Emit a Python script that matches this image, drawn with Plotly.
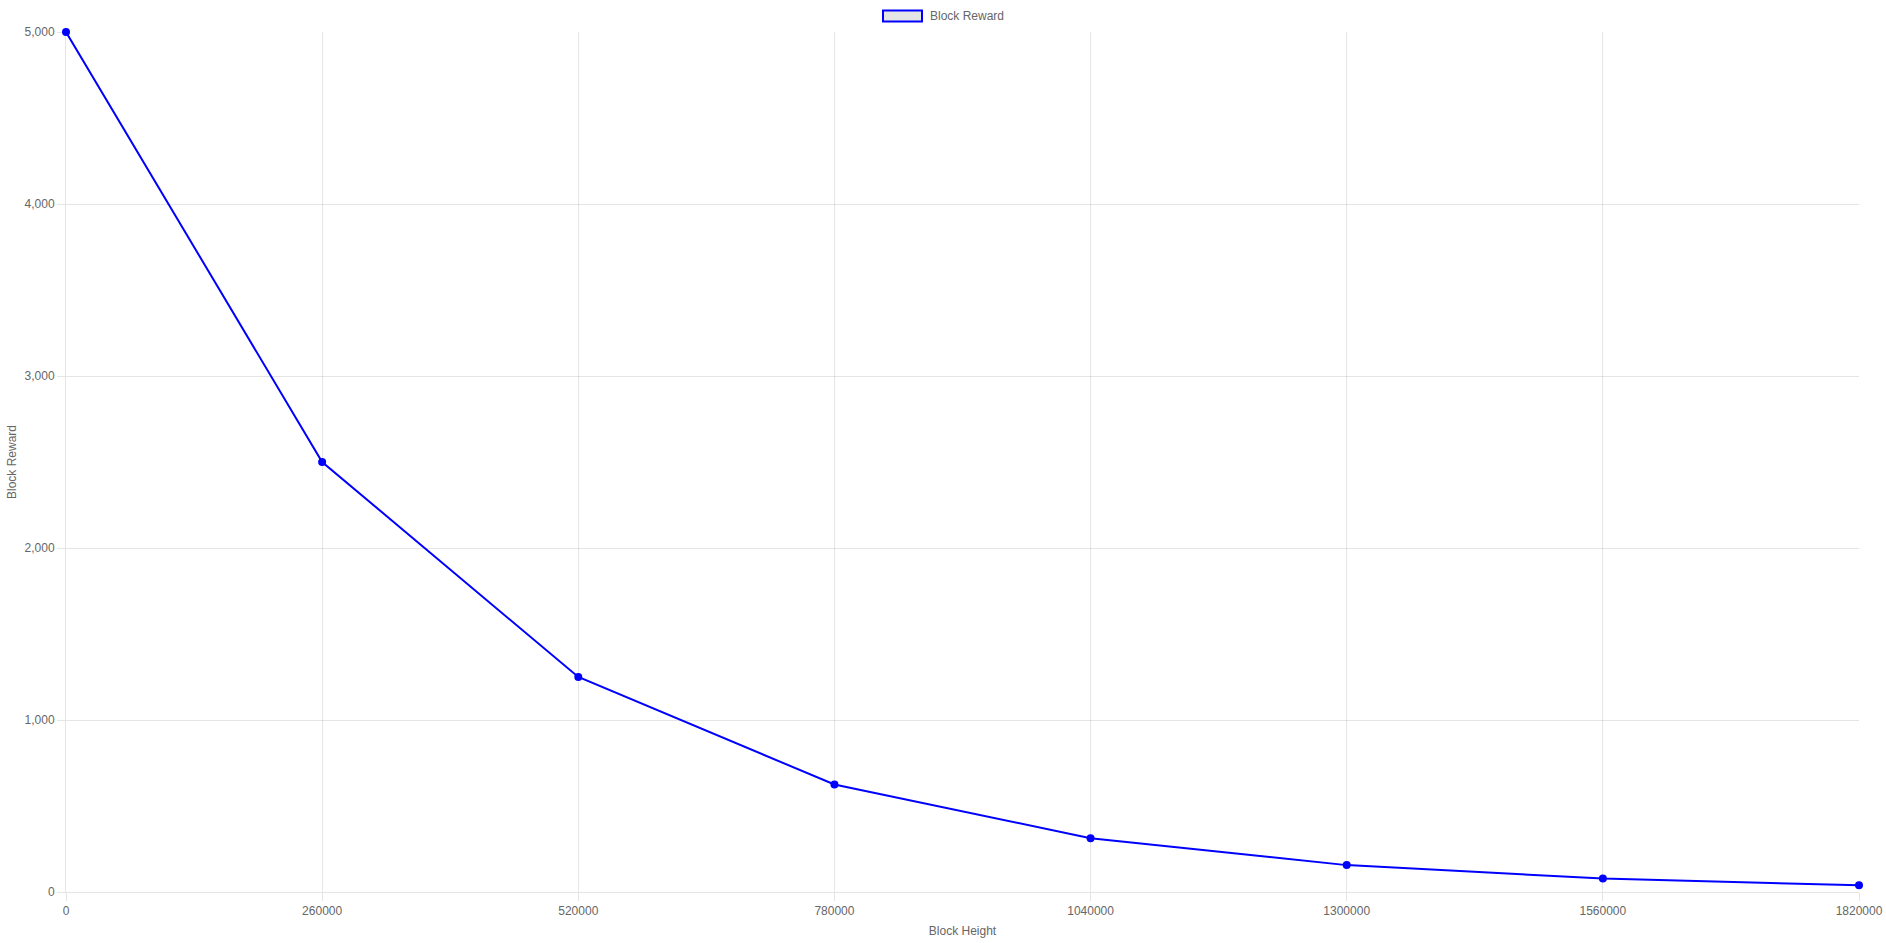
import plotly.graph_objects as go

block_heights = ["0", "260000", "520000", "780000", "1040000", "1300000", "1560000", "1820000"]
block_rewards = [5000, 2500, 1250, 625, 312.5, 156.25, 78.125, 39.0625]
series_name = "Block Reward"

W, H = 1886, 943
L, R, T, B = 66, 27, 32, 51
pw, ph = W - L - R, H - T - B

def px_x(x):
    return (x - L) / pw

def px_y(y):
    return (H - B - y) / ph

font = dict(family="Liberation Sans, Arial, sans-serif", size=12, color="#666666")
grid = "rgba(0,0,0,0.1)"

fig = go.Figure()
fig.add_trace(go.Scatter(
    x=block_heights, y=block_rewards, name=series_name, mode="lines+markers",
    line=dict(color="#0000ff", width=2),
    marker=dict(color="#0000ff", size=8),
    cliponaxis=False, showlegend=False,
    hovertemplate="%{x}<br>%{y}<extra>" + series_name + "</extra>",
))

fig.add_shape(type="rect", xref="paper", yref="paper",
              x0=px_x(883), x1=px_x(922), y0=px_y(21.5), y1=px_y(10.5),
              line=dict(color="#0000ff", width=2), fillcolor="rgba(0,0,0,0.1)")
fig.add_annotation(xref="paper", yref="paper", x=px_x(928), y=px_y(16),
                   xanchor="left", yanchor="middle", text=series_name,
                   showarrow=False, font=font)

fig.update_layout(
    width=W, height=H,
    margin=dict(l=L, r=R, t=T, b=B, pad=0, autoexpand=False),
    plot_bgcolor="white", paper_bgcolor="white",
    font=font,
    xaxis=dict(
        type="category", range=[0, len(block_heights) - 1],
        showgrid=True, gridcolor=grid, gridwidth=1,
        ticks="outside", ticklen=8, tickcolor=grid,
        showline=True, linecolor=grid, linewidth=1,
        zeroline=False, automargin=False,
        title=dict(text="Block Height", standoff=9, font=font),
        tickfont=font,
    ),
    yaxis=dict(
        range=[0, 5000], dtick=1000, tickformat=",",
        showgrid=True, gridcolor=grid, gridwidth=1,
        ticks="outside", ticklen=8, tickcolor=grid,
        showline=True, linecolor=grid, linewidth=1,
        zeroline=False, automargin=False,
        title=dict(text="Block Reward", standoff=5, font=font),
        tickfont=font,
    ),
)

fig.write_html(
    "out.html",
    config={"displayModeBar": False, "responsive": False},
    post_script="document.body.style.margin='0';document.body.style.padding='0';document.body.style.overflow='hidden';document.documentElement.style.overflow='hidden';",
)
